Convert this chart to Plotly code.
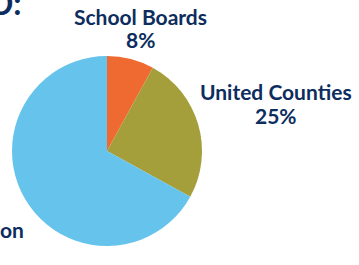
import plotly.graph_objects as go

categories = ["School Boards", "United Counties", "on"]
values = [8, 25, 67]
colors = ["#EE6A30", "#A59F3B", "#65C3EC"]
title_text = "D:"

W, H = 359, 265
navy = "#0D2D5E"
font = "Lato"

fig = go.Figure(go.Pie(
    labels=categories, values=values, sort=False, direction="clockwise",
    rotation=0, marker=dict(colors=colors, line=dict(width=0)),
    textinfo="none", hoverinfo="label+percent", showlegend=False,
    domain=dict(x=[12 / W, 202 / W], y=[19 / H, 209 / H]),
))

def ann(text, x, y, size, xanchor="center"):
    fig.add_annotation(text=text, x=x / W, y=1 - y / H, xref="paper", yref="paper",
                       showarrow=False, xanchor=xanchor, yanchor="middle",
                       font=dict(family=font, size=size, color=navy, weight="bold"))

ann(f"<b>{categories[0]}</b>", 140, 17, 21)
ann(f"<b>{values[0]}%</b>", 140, 40, 21)
ann(f"<b>{categories[1]}</b>", 276, 92, 21)
ann(f"<b>{values[1]}%</b>", 276, 115, 21)
ann(f"<b>{categories[2]}</b>", 26, 229, 21, xanchor="right")
ann(f"<b>{title_text}</b>", 24, 2, 32, xanchor="right")

fig.update_layout(width=W, height=H, margin=dict(l=0, r=0, t=0, b=0),
                  paper_bgcolor="white", plot_bgcolor="white")
fig.write_html("out.html", config={"displayModeBar": False},
               post_script="document.body.style.margin='0';document.body.style.overflow='hidden';")
